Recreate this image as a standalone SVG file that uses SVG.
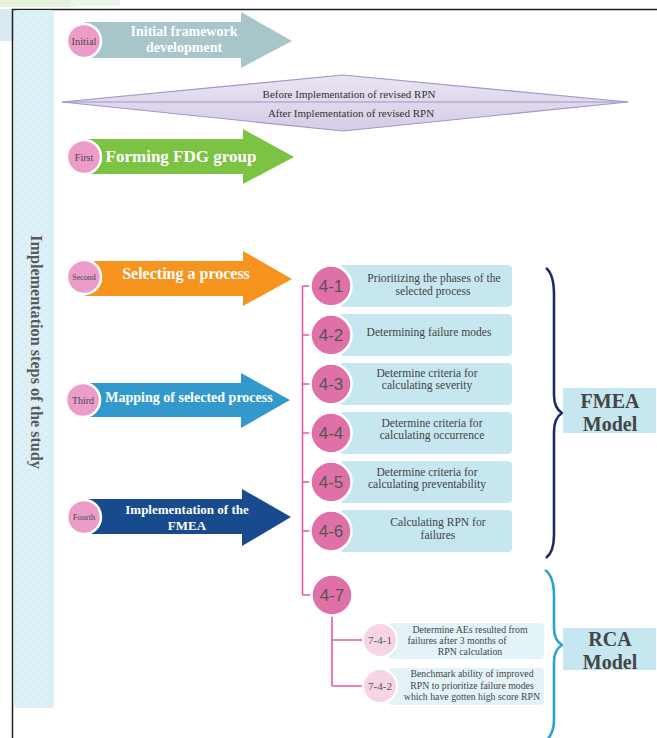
<svg xmlns="http://www.w3.org/2000/svg" width="657" height="738" viewBox="0 0 657 738">
<defs>
<style>
.serif{font-family:"Liberation Serif","Times New Roman",serif}
.sans{font-family:"Liberation Sans",Arial,sans-serif}
.atext{font-family:"Liberation Serif","Times New Roman",serif;font-weight:bold;fill:#ffffff;text-anchor:middle}
.stepc{fill:#eb9cc8;stroke:#ffffff;stroke-width:2.5}
.steplbl{font-family:"Liberation Serif","Times New Roman",serif;fill:#4a4a4a;text-anchor:middle}
.subc{fill:#e070a8;stroke:#ffffff;stroke-width:2.5}
.sublbl{font-family:"Liberation Sans",Arial,sans-serif;fill:#555555;font-size:17px;text-anchor:middle}
.box{fill:#c6e7f0}
.boxt{font-family:"Liberation Serif","Times New Roman",serif;fill:#444444;font-size:11.6px;text-anchor:middle}
.sbox{fill:#e4f3f8}
.sboxt{font-family:"Liberation Serif","Times New Roman",serif;fill:#444444;font-size:9.8px;text-anchor:middle}
.smc{fill:#f7d4e4;stroke:#ffffff;stroke-width:2}
.smlbl{font-family:"Liberation Serif","Times New Roman",serif;fill:#555555;font-size:11px;text-anchor:middle}
.tree{stroke:#e8589e;stroke-width:1.6;fill:none}
.model{font-family:"Liberation Serif","Times New Roman",serif;font-weight:bold;fill:#454545;font-size:20px;text-anchor:middle}
</style>
<pattern id="dots" width="8" height="8" patternUnits="userSpaceOnUse">
<rect width="8" height="8" fill="#dcf0f7"/>
<circle cx="2" cy="2" r="0.8" fill="#c9e4ee"/>
<circle cx="6" cy="6" r="0.8" fill="#c9e4ee"/>
</pattern>
<linearGradient id="lav" x1="0" y1="0" x2="0" y2="1">
<stop offset="0" stop-color="#e9e4f2"/>
<stop offset="1" stop-color="#d6cce6"/>
</linearGradient>
</defs>

<!-- background corner artifacts -->
<rect x="0" y="0" width="657" height="738" fill="#ffffff"/>
<rect x="0" y="0" width="75" height="7" fill="#e6f2dc"/>
<rect x="0" y="9" width="18" height="32" fill="#d9eaf2"/>
<rect x="70" y="0" width="50" height="6" fill="#eef6ea"/>

<!-- border -->
<g id="frame">
<path d="M12.5,738 L12.5,9.5 L657,9.5" fill="none" stroke="#222222" stroke-width="1.5"/>
</g>

<!-- sidebar -->
<g id="sidebar">
<rect x="14" y="10" width="40" height="698" rx="4" fill="url(#dots)"/>
<text class="serif" transform="translate(31,352) rotate(90)" text-anchor="middle" font-size="16.2" font-weight="bold" fill="#595959">Implementation steps of the study</text>
</g>

<!-- main step arrows -->
<g id="step-initial">
<polygon points="85,22 241,22 241,12 292,41 241,68 241,58 85,58" fill="#a6c6ca"/>
<circle class="stepc" cx="84" cy="41" r="17"/>
<text class="steplbl" x="84" y="45" font-size="10.5">Initial</text>
<text class="atext" x="184" y="36" font-size="14">Initial framework</text>
<text class="atext" x="184" y="52" font-size="14">development</text>
</g>

<g id="revised-rpn">
<polygon points="62,102 343,75 628,102 343,131" fill="url(#lav)" stroke="#a394cb" stroke-width="1.2"/>
<line x1="62" y1="102" x2="628" y2="102" stroke="#a394cb" stroke-width="1.2"/>
<text class="serif" x="349" y="98" text-anchor="middle" font-size="11" fill="#333333">Before Implementation of revised RPN</text>
<text class="serif" x="351" y="117" text-anchor="middle" font-size="11" fill="#333333">After Implementation of revised RPN</text>
</g>

<g id="step-first">
<polygon points="85,139 243,139 243,129 294,157 243,184 243,174 85,174" fill="#7cc243"/>
<circle class="stepc" cx="84" cy="157" r="17"/>
<text class="steplbl" x="84" y="161" font-size="10">First</text>
<text class="atext" x="181" y="162" font-size="17">Forming FDG group</text>
</g>

<g id="step-second">
<polygon points="85,261 243,261 243,251 292,279 243,306 243,296 85,296" fill="#f7941e"/>
<circle class="stepc" cx="84" cy="277" r="17"/>
<text class="steplbl" x="84" y="280" font-size="8">Second</text>
<text class="atext" x="186" y="279" font-size="16">Selecting a process</text>
</g>

<g id="step-third">
<polygon points="85,383 241,383 241,373 290,400 241,428 241,417 85,417" fill="#3399cc"/>
<circle class="stepc" cx="83" cy="400" r="17"/>
<text class="steplbl" x="83" y="404" font-size="10">Third</text>
<text class="atext" x="189" y="402" font-size="14">Mapping of selected process</text>
</g>

<g id="step-fourth">
<polygon points="85,499 242,499 242,489 291,517 242,546 242,534 85,534" fill="#174b8d"/>
<circle class="stepc" cx="84" cy="517" r="17"/>
<text class="steplbl" x="84" y="520" font-size="8.5">Fourth</text>
<text class="atext" x="187" y="514" font-size="13">Implementation of the</text>
<text class="atext" x="187" y="530" font-size="13">FMEA</text>
</g>

<!-- connectors -->
<g id="connectors">
<path class="tree" d="M302.5,286 L302.5,595 M302.5,286 L312,286 M302.5,335 L312,335 M302.5,384 L312,384 M302.5,433 L312,433 M302.5,482 L312,482 M302.5,531 L312,531 M302.5,595 L312,595"/>
<path class="tree" d="M332,614 L332,686 M332,640 L364,640 M332,686 L364,686"/>
</g>

<!-- sub steps -->
<g id="s4-1">
<rect class="box" x="340" y="265" width="172" height="42" rx="4"/>
<circle class="subc" cx="331" cy="286" r="20.5"/>
<text class="sublbl" x="331" y="292">4-1</text>
<text class="boxt" x="434" y="282">Prioritizing the phases of the</text>
<text class="boxt" x="433" y="295">selected process</text>
</g>
<g id="s4-2">
<rect class="box" x="340" y="314" width="172" height="42" rx="4"/>
<circle class="subc" cx="331" cy="335" r="20.5"/>
<text class="sublbl" x="331" y="341">4-2</text>
<text class="boxt" x="429" y="336">Determining failure modes</text>
</g>
<g id="s4-3">
<rect class="box" x="340" y="363" width="172" height="42" rx="4"/>
<circle class="subc" cx="331" cy="384" r="20.5"/>
<text class="sublbl" x="331" y="390">4-3</text>
<text class="boxt" x="427" y="377">Determine criteria for</text>
<text class="boxt" x="427" y="389">calculating severity</text>
</g>
<g id="s4-4">
<rect class="box" x="340" y="412" width="172" height="42" rx="4"/>
<circle class="subc" cx="331" cy="433" r="20.5"/>
<text class="sublbl" x="331" y="439">4-4</text>
<text class="boxt" x="432" y="427">Determine criteria for</text>
<text class="boxt" x="432" y="439">calculating occurrence</text>
</g>
<g id="s4-5">
<rect class="box" x="340" y="461" width="172" height="42" rx="4"/>
<circle class="subc" cx="331" cy="482" r="20.5"/>
<text class="sublbl" x="331" y="488">4-5</text>
<text class="boxt" x="427" y="476">Determine criteria for</text>
<text class="boxt" x="427" y="488">calculating preventability</text>
</g>
<g id="s4-6">
<rect class="box" x="340" y="510" width="172" height="42" rx="4"/>
<circle class="subc" cx="331" cy="531" r="20.5"/>
<text class="sublbl" x="331" y="537">4-6</text>
<text class="boxt" x="438" y="526">Calculating RPN for</text>
<text class="boxt" x="438" y="539">failures</text>
</g>
<g id="s4-7">
<circle class="subc" cx="332" cy="595" r="20.5"/>
<text class="sublbl" x="332" y="601">4-7</text>
</g>
<g id="s7-4-1">
<rect class="sbox" x="388" y="623" width="156" height="36" rx="4"/>
<circle class="smc" cx="380" cy="640" r="17"/>
<text class="smlbl" x="380" y="644">7-4-1</text>
<text class="sboxt" x="470" y="633">Determine AEs resulted from</text>
<text class="sboxt" x="457" y="644">failures after 3 months of</text>
<text class="sboxt" x="470" y="655">RPN calculation</text>
</g>
<g id="s7-4-2">
<rect class="sbox" x="388" y="668" width="156" height="37" rx="4"/>
<circle class="smc" cx="380" cy="686" r="17"/>
<text class="smlbl" x="380" y="690">7-4-2</text>
<text class="sboxt" x="472" y="677">Benchmark ability of improved</text>
<text class="sboxt" x="472" y="689">RPN to prioritize failure modes</text>
<text class="sboxt" x="472" y="700">which have gotten high score RPN</text>
</g>

<!-- braces and model labels -->
<g id="fmea-model">
<path d="M546,268 Q554,274 554,295 L554,395 Q554,408 562,413 Q554,418 554,432 L554,535 Q554,552 546,558" fill="none" stroke="#1f2a6b" stroke-width="2.6"/>
<rect x="563" y="388" width="93" height="45" fill="#c6e7f0"/>
<text class="model" x="610" y="408">FMEA</text>
<text class="model" x="610" y="431">Model</text>
</g>
<g id="rca-model">
<path d="M545,570 Q554,576 554,596 L554,628 Q554,640 562,645 Q554,650 554,662 L554,720 Q554,734 545,742" fill="none" stroke="#2ba2d0" stroke-width="2.6"/>
<rect x="563" y="628" width="93" height="42" fill="#c6e7f0"/>
<text class="model" x="610" y="646">RCA</text>
<text class="model" x="610" y="669">Model</text>
</g>
</svg>
